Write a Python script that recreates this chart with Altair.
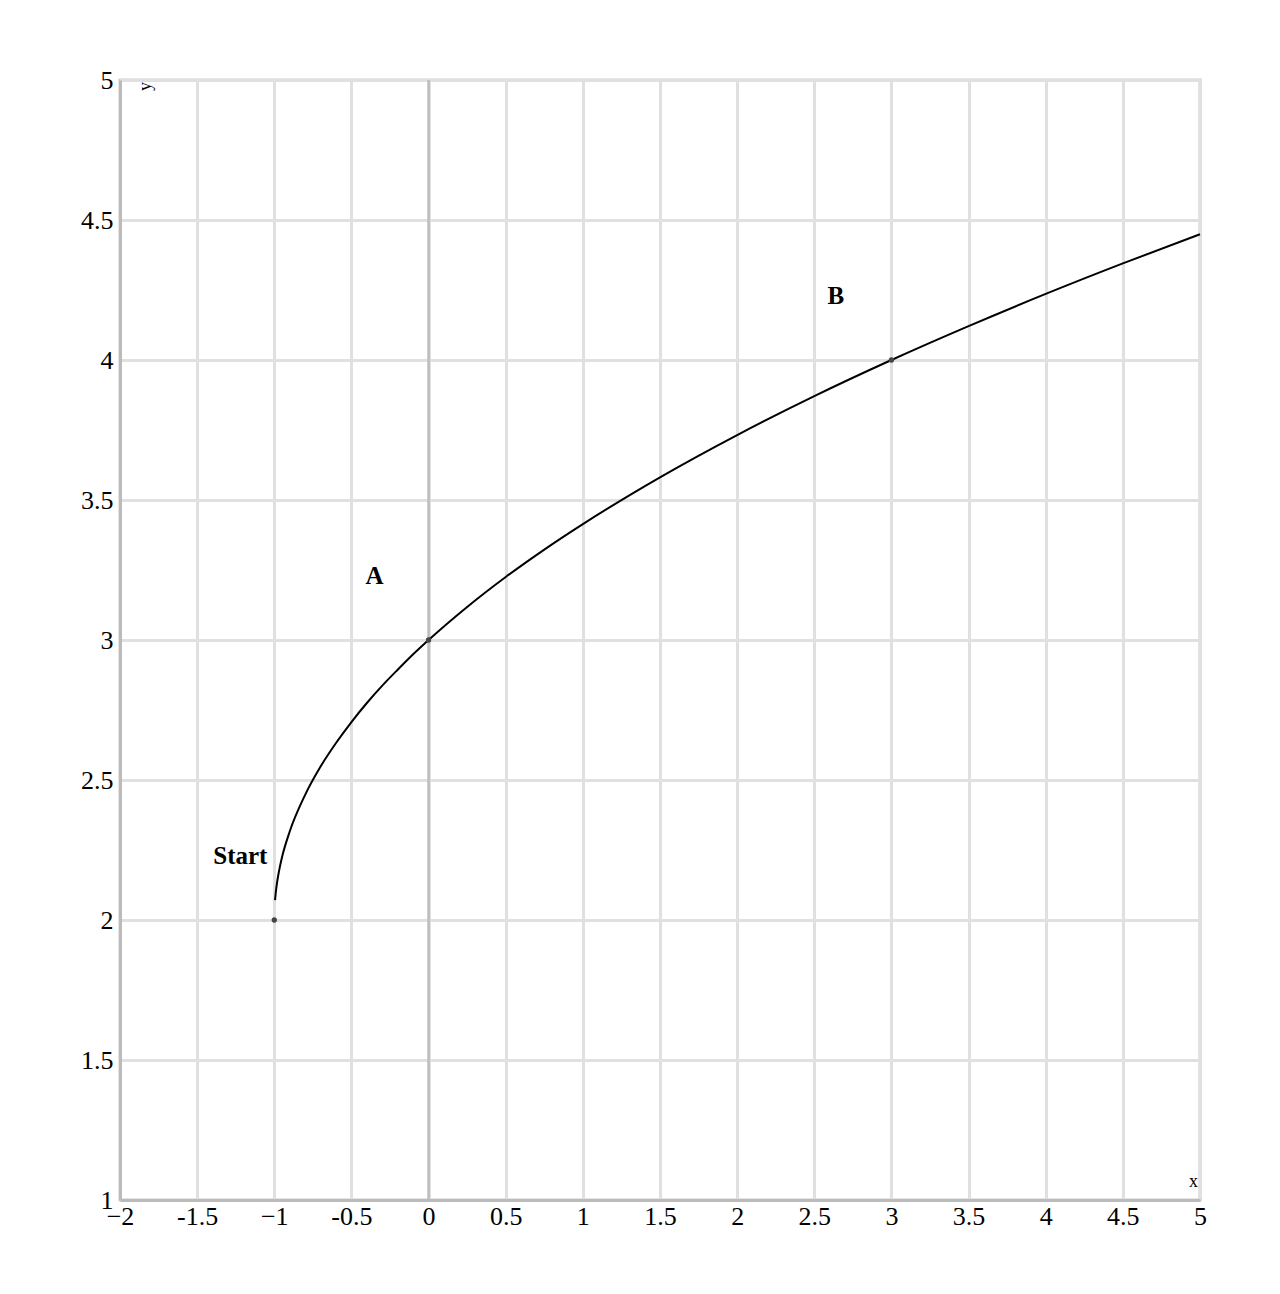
import altair as alt
import pandas as pd

# curve
curve_x = [-0.995, -0.99, -0.98, -0.97, -0.95, -0.9, -0.8, -0.7, -0.6, -0.5, -0.4, -0.3,
           -0.2, -0.1, 0, 0.25, 0.5, 0.75, 1, 1.5, 2, 2.5, 3, 3.5, 4, 4.5, 5]
curve_y = [2.071, 2.100, 2.141, 2.173, 2.224, 2.316, 2.447, 2.548, 2.632, 2.707, 2.775, 2.837,
           2.894, 2.949, 3.000, 3.118, 3.225, 3.323, 3.414, 3.581, 3.732, 3.871, 4.000, 4.121,
           4.236, 4.345, 4.449]

point_x = [-1, 0, 3]
point_y = [2, 3, 4]

label_text = ["Start", "A", "B"]
label_x = [-1.22, -0.35, 2.64]
label_y = [2.23, 3.23, 4.23]

x_ticks = [-2, -1.5, -1, -0.5, 0, 0.5, 1, 1.5, 2, 2.5, 3, 3.5, 4, 4.5, 5]
y_ticks = [1, 1.5, 2, 2.5, 3, 3.5, 4, 4.5, 5]

curve = pd.DataFrame({"x": curve_x, "y": curve_y})
points = pd.DataFrame({"x": point_x, "y": point_y})
labels = pd.DataFrame({"x": label_x, "y": label_y, "t": label_text})
zero = pd.DataFrame({"x": [0]})

FONT = "Liberation Serif"
x_expr = "datum.value < 0 && datum.value % 1 == 0 ? '\u2212' + abs(datum.value) : '' + datum.value"
y_expr = "'' + datum.value"

xs = alt.Scale(domain=[-2, 5], nice=False, zero=False)
ys = alt.Scale(domain=[1, 5], nice=False, zero=False)

x_axis = alt.Axis(values=x_ticks, grid=True, gridColor="#e0e0e0", gridWidth=3,
                  ticks=False, domainColor="#bbbbbb", domainWidth=3,
                  labelFont=FONT, labelFontSize=26, labelColor="#000", labelPadding=3,
                  labelOverlap=False, labelFlush=False, labelExpr=x_expr,
                  title="x", titleFont=FONT, titleFontSize=18, titleFontWeight="normal",
                  titleX=1073, titleY=-10, titleAlign="center", titleBaseline="bottom")
y_axis = alt.Axis(values=y_ticks, grid=True, gridColor="#e0e0e0", gridWidth=3,
                  ticks=False, domainColor="#bbbbbb", domainWidth=3,
                  labelFont=FONT, labelFontSize=26, labelColor="#000", labelPadding=7,
                  labelOverlap=False, labelFlush=False, labelExpr=y_expr,
                  title="y", titleFont=FONT, titleFontSize=18, titleFontWeight="normal",
                  titleX=25, titleY=6, titleAngle=270, titleAlign="center", titleBaseline="middle")

base_line = alt.Chart(curve).mark_line(color="black", strokeWidth=2, interpolate="monotone").encode(
    x=alt.X("x:Q", scale=xs, axis=x_axis),
    y=alt.Y("y:Q", scale=ys, axis=y_axis),
)

zero_rule = alt.Chart(zero).mark_rule(color="#bbbbbb", strokeWidth=2.5).encode(
    x=alt.X("x:Q", scale=xs)
)

dots = alt.Chart(points).mark_circle(color="#444444", size=28, opacity=1).encode(
    x=alt.X("x:Q", scale=xs), y=alt.Y("y:Q", scale=ys)
)

text = alt.Chart(labels).mark_text(font=FONT, fontSize=25, fontWeight="bold", color="black").encode(
    x=alt.X("x:Q", scale=xs), y=alt.Y("y:Q", scale=ys), text="t:N"
)

chart = alt.layer(zero_rule, base_line, dots, text).properties(
    width=1080, height=1120,
    autosize=alt.AutoSizeParams(type="none"),
    padding={"left": 112, "top": 72, "right": 60, "bottom": 80},
).configure_view(stroke="#cccccc", strokeWidth=3)

chart.save("out.html", embed_options={"renderer": "svg", "actions": False})
